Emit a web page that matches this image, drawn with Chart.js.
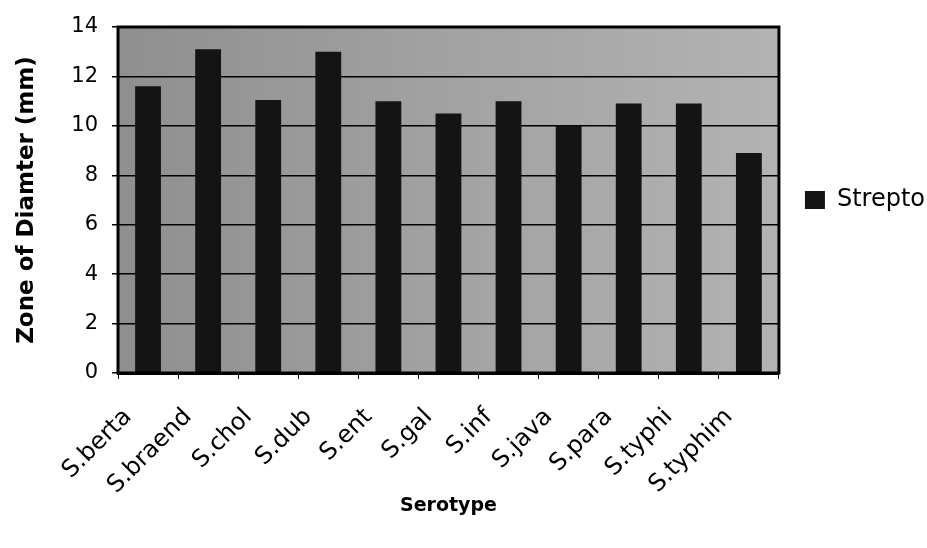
<!DOCTYPE html>
<html>
<head>
<meta charset="utf-8">
<style>
  html, body { margin: 0; padding: 0; background: #ffffff; }
  #wrap { width: 927px; height: 548px; position: relative; }
</style>
<script src="https://cdn.jsdelivr.net/npm/chart.js@4.4.1/dist/chart.umd.min.js"></script>
</head>
<body>
<div id="wrap"><canvas id="c" width="927" height="548"></canvas></div>
<script>
// ---- data ----
const categories = ["S.berta", "S.braend", "S.chol", "S.dub", "S.ent", "S.gal", "S.inf", "S.java", "S.para", "S.typhi", "S.typhim"];
const streptoValues = [11.6, 13.1, 11.05, 13.0, 11.0, 10.5, 11.0, 10.0, 10.9, 10.9, 8.9];
const seriesName = "Strepto";
const yAxisTitle = "Zone of Diamter (mm)";
const xAxisTitle = "Serotype";
const yTickMin = 0, yTickMax = 14, yTickStep = 2;

Chart.defaults.color = '#000';
Chart.defaults.font.family = "'DejaVu Sans', sans-serif";

const plotBg = {
  id: 'plotBg',
  beforeDraw(chart) {
    const {ctx, chartArea: a} = chart;
    ctx.save();
    const g = ctx.createLinearGradient(a.left, 0, a.right, 0);
    g.addColorStop(0, '#8f8f8f');
    g.addColorStop(0.5, '#a2a2a2');
    g.addColorStop(1, '#b3b3b3');
    ctx.fillStyle = g;
    ctx.fillRect(a.left, a.top, a.right - a.left, a.bottom - a.top);
    ctx.restore();
  },
  afterDraw(chart) {
    const {ctx, chartArea: a} = chart;
    ctx.save();
    ctx.strokeStyle = '#000';
    ctx.lineWidth = 3;
    ctx.strokeRect(a.left, a.top, a.right - a.left, a.bottom - a.top);
    ctx.restore();
  }
};

new Chart(document.getElementById('c'), {
  type: 'bar',
  data: {
    labels: categories,
    datasets: [{
      label: seriesName,
      data: streptoValues,
      backgroundColor: '#141414',
      borderWidth: 0,
      categoryPercentage: 1.0,
      barPercentage: 0.43
    }]
  },
  options: {
    responsive: false,
    animation: false,
    layout: { padding: { top: 27, right: -8, bottom: 0, left: 0 } },
    plugins: {
      tooltip: { enabled: false },
      legend: {
        position: 'right',
        fullSize: false,
        align: 'center',
        labels: {
          boxWidth: 20,
          boxHeight: 18,
          padding: 26,
          color: '#000',
          font: { size: 24, family: "'DejaVu Sans', sans-serif" }
        }
      }
    },
    scales: {
      x: {
        offset: true,
        afterFit(scale) { scale.height = 175; },
        grid: { display: true, drawOnChartArea: false, offset: true, color: '#000', lineWidth: 1, tickLength: 6 },
        border: { display: true, color: '#000', width: 3 },
        ticks: {
          maxRotation: 45, minRotation: 45, autoSkip: false,
          padding: 24, labelOffset: -20, color: '#000',
          font: { size: 24 }
        },
        title: {
          display: true, text: xAxisTitle, color: '#000',
          font: { size: 19, weight: 'bold' },
          padding: { top: 0, bottom: 31 }
        }
      },
      y: {
        min: yTickMin, max: yTickMax,
        afterFit(scale) { scale.width = 118; },
        grid: { color: '#000', lineWidth: 1.5, tickLength: 6 },
        border: { display: true, color: '#000', width: 2 },
        ticks: {
          stepSize: yTickStep, padding: 14, color: '#000',
          font: { size: 21 }
        },
        title: {
          display: true, text: yAxisTitle, color: '#000',
          font: { size: 23, weight: 'bold' },
          padding: { top: 13, bottom: 20 }
        }
      }
    }
  },
  plugins: [plotBg]
});
</script>
</body>
</html>
